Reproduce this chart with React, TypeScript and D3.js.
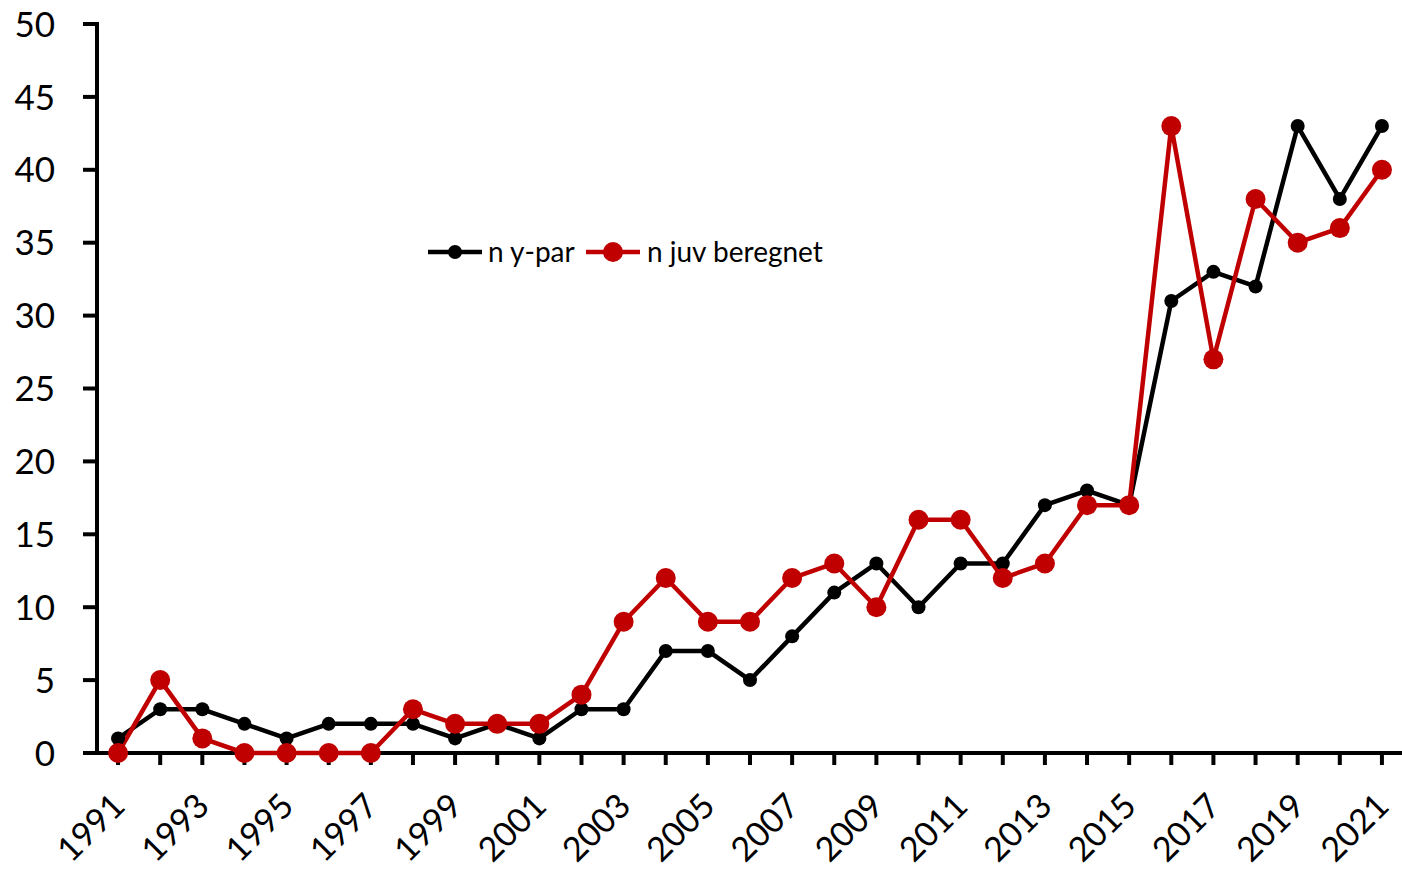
import React from "react";
import * as d3 from "d3";

const years: number[] = d3.range(1991, 2022);
const nYPar: number[] = [1, 3, 3, 2, 1, 2, 2, 2, 1, 2, 1, 3, 3, 7, 7, 5, 8, 11, 13, 10, 13, 13, 17, 18, 17, 31, 33, 32, 43, 38, 43];
const nJuv: number[] = [0, 5, 1, 0, 0, 0, 0, 3, 2, 2, 2, 4, 9, 12, 9, 9, 12, 13, 10, 16, 16, 12, 13, 17, 17, 43, 27, 38, 35, 36, 40];
const yTicks: number[] = [0, 5, 10, 15, 20, 25, 30, 35, 40, 45, 50];
const seriesNames: string[] = ["n y-par", "n juv beregnet"];

const W = 1402;
const H = 872;
const left = 97;
const right = 1403;
const top = 24;
const bottom = 753;
const FONT = "Lato, 'Noto Sans', sans-serif";

export default function App() {
  const x = d3.scaleBand<number>().domain(years).range([left, right]).paddingInner(0).paddingOuter(0);
  const cx = (yr: number) => (x(yr) as number) + x.bandwidth() / 2;
  const y = d3.scaleLinear().domain([0, 50]).range([bottom, top]);
  const line = d3.line<number>().x((_, i) => cx(years[i])).y((d) => y(d));

  return (
    <svg width={W} height={H} style={{ position: "absolute", left: 0, top: 0, background: "#fff" }}>
      {/* y axis */}
      <line x1={left} x2={left} y1={top - 2} y2={bottom + 2} stroke="#000" strokeWidth={4} />
      {yTicks.map((t) => (
        <g key={t}>
          <line x1={left - 14} x2={left} y1={y(t)} y2={y(t)} stroke="#000" strokeWidth={4} />
          <text x={55} y={y(t)} dy="0.36em" textAnchor="end" fontFamily={FONT} fontSize={35} fill="#000">
            {t}
          </text>
        </g>
      ))}
      {/* x axis */}
      <line x1={left - 14} x2={W} y1={bottom} y2={bottom} stroke="#000" strokeWidth={4} />
      {years.map((yr, i) => (
        <g key={yr}>
          <line x1={cx(yr)} x2={cx(yr)} y1={bottom} y2={bottom + 12} stroke="#000" strokeWidth={4} />
          {i % 2 === 0 && (
            <text
              transform={`translate(${cx(yr) + 9},${bottom + 55}) rotate(-45)`}
              textAnchor="end"
              fontFamily={FONT}
              fontSize={34}
              fill="#000"
            >
              {yr}
            </text>
          )}
        </g>
      ))}
      {/* black series */}
      <path d={line(nYPar) as string} fill="none" stroke="#000" strokeWidth={4.5} strokeLinejoin="round" />
      {/* red series */}
      <path d={line(nJuv) as string} fill="none" stroke="#C00000" strokeWidth={4.5} strokeLinejoin="round" />
      {nYPar.map((v, i) => (
        <circle key={"b" + i} cx={cx(years[i])} cy={y(v)} r={7} fill="#000" />
      ))}
      {nJuv.map((v, i) => (
        <circle key={"r" + i} cx={cx(years[i])} cy={y(v)} r={10} fill="#C00000" />
      ))}
      {/* legend */}
      <g>
        <line x1={428} x2={482} y1={252} y2={252} stroke="#000" strokeWidth={4.5} />
        <circle cx={455} cy={252} r={7} fill="#000" />
        <text x={488} y={252} dy="0.35em" fontFamily={FONT} fontSize={28} fill="#000">
          {seriesNames[0]}
        </text>
        <line x1={586} x2={640} y1={252} y2={252} stroke="#C00000" strokeWidth={4.5} />
        <circle cx={613} cy={252} r={10} fill="#C00000" />
        <text x={647} y={252} dy="0.35em" fontFamily={FONT} fontSize={28} fill="#000">
          {seriesNames[1]}
        </text>
      </g>
    </svg>
  );
}
